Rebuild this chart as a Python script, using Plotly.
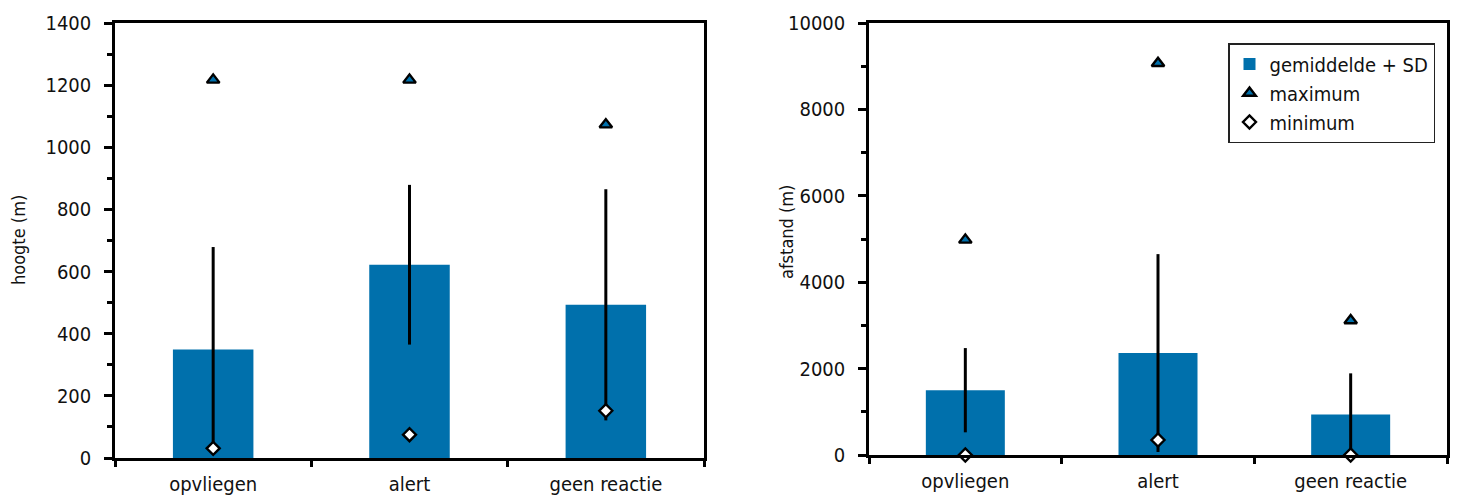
import plotly.graph_objects as go

categories = ["opvliegen", "alert", "geen reactie"]

# left panel: hoogte (m)
height_mean = [349, 622, 493]
height_sd = [330, 257, 372]
height_max = [1217, 1217, 1073]
height_min = [31, 75, 152]

# right panel: afstand (m)
dist_mean = [1500, 2360, 940]
dist_sd = [975, 2290, 950]
dist_max = [4980, 9070, 3115]
dist_min = [0, 347, 0]

left_ticks = [0, 200, 400, 600, 800, 1000, 1200, 1400]
right_ticks = [0, 2000, 4000, 6000, 8000, 10000]
right_ticktext = ["0", "2000", "4000", "6000", "8000", "10000"]

BLUE = "#0070AC"
FONT = "DejaVu Sans Condensed, Roboto, sans-serif"
W, H = 1457, 498

fig = go.Figure()

def add_panel(mean, sd, mx, mn, xa, ya, show):
    fig.add_trace(go.Bar(
        x=categories, y=mean, xaxis=xa, yaxis=ya,
        marker=dict(color=BLUE, line=dict(width=0)),
        error_y=dict(type="data", array=sd, symmetric=True, color="black",
                     thickness=3, width=0),
        name="gemiddelde + SD", showlegend=show,
    ))
    fig.add_trace(go.Scatter(
        x=categories, y=mx, xaxis=xa, yaxis=ya, mode="markers",
        marker=dict(symbol="triangle-up", size=11, color=BLUE,
                    line=dict(color="black", width=2.4)),
        name="maximum", showlegend=show, cliponaxis=False,
    ))
    fig.add_trace(go.Scatter(
        x=categories, y=mn, xaxis=xa, yaxis=ya, mode="markers",
        marker=dict(symbol="diamond", size=10, color="white",
                    line=dict(color="black", width=2.4)),
        name="minimum", showlegend=show, cliponaxis=False,
    ))

add_panel(height_mean, height_sd, height_max, height_min, "x", "y", False)
add_panel(dist_mean, dist_sd, dist_max, dist_min, "x2", "y2", True)

axis_common = dict(showline=True, linecolor="black", linewidth=2.5, mirror=True,
                   showgrid=False, zeroline=False, automargin=False,
                   tickfont=dict(family=FONT, size=20, color="#111"))

fig.update_layout(
    width=W, height=H,
    margin=dict(l=0, r=0, t=0, b=0),
    paper_bgcolor="white", plot_bgcolor="white",
    bargap=0.59,
    font=dict(family=FONT, size=20, color="#111"),
    xaxis=dict(domain=[115 / W, 704 / W], anchor="y", type="category",
               ticks="outside", tickson="boundaries", ticklen=6, tickwidth=2.5,
               tickcolor="black", ticklabelstandoff=6, **axis_common),
    yaxis=dict(domain=[(H - 458) / H, (H - 23) / H], anchor="x",
               range=[0, 1400], tickvals=left_ticks, ticks="outside",
               ticklen=8, tickwidth=2.5, tickcolor="black", ticklabelstandoff=9,
               minor=dict(dtick=100, ticklen=5, tickwidth=2.5, tickcolor="black",
                          ticks="outside"),
               **axis_common),
    xaxis2=dict(domain=[869 / W, 1447 / W], anchor="y2", type="category",
                ticks="outside", tickson="boundaries", ticklen=6, tickwidth=2.5,
                tickcolor="black", ticklabelstandoff=6, **axis_common),
    yaxis2=dict(domain=[(H - 455) / H, (H - 23) / H], anchor="x2",
                range=[0, 10000], tickvals=right_ticks, ticktext=right_ticktext,
                ticks="outside", ticklen=8, tickwidth=2.5, tickcolor="black",
                ticklabelstandoff=9,
                minor=dict(dtick=1000, ticklen=5, tickwidth=2.5, tickcolor="black",
                           ticks="outside"),
                **axis_common),
    legend=dict(x=1228 / W, y=(H - 43) / H, xanchor="left", yanchor="top",
                bordercolor="#222", borderwidth=1.5, bgcolor="white",
                font=dict(family=FONT, size=20, color="#111"),
                tracegroupgap=0, itemwidth=30),
    annotations=[
        dict(text="hoogte (m)", x=18 / W, y=(H - 240) / H, xref="paper", yref="paper",
             textangle=-90, showarrow=False, xanchor="center", yanchor="middle",
             font=dict(family=FONT, size=18, color="#111")),
        dict(text="afstand (m)", x=786 / W, y=(H - 232) / H, xref="paper", yref="paper",
             textangle=-90, showarrow=False, xanchor="center", yanchor="middle",
             font=dict(family=FONT, size=18, color="#111")),
    ],
)

fig.write_html("out.html")
